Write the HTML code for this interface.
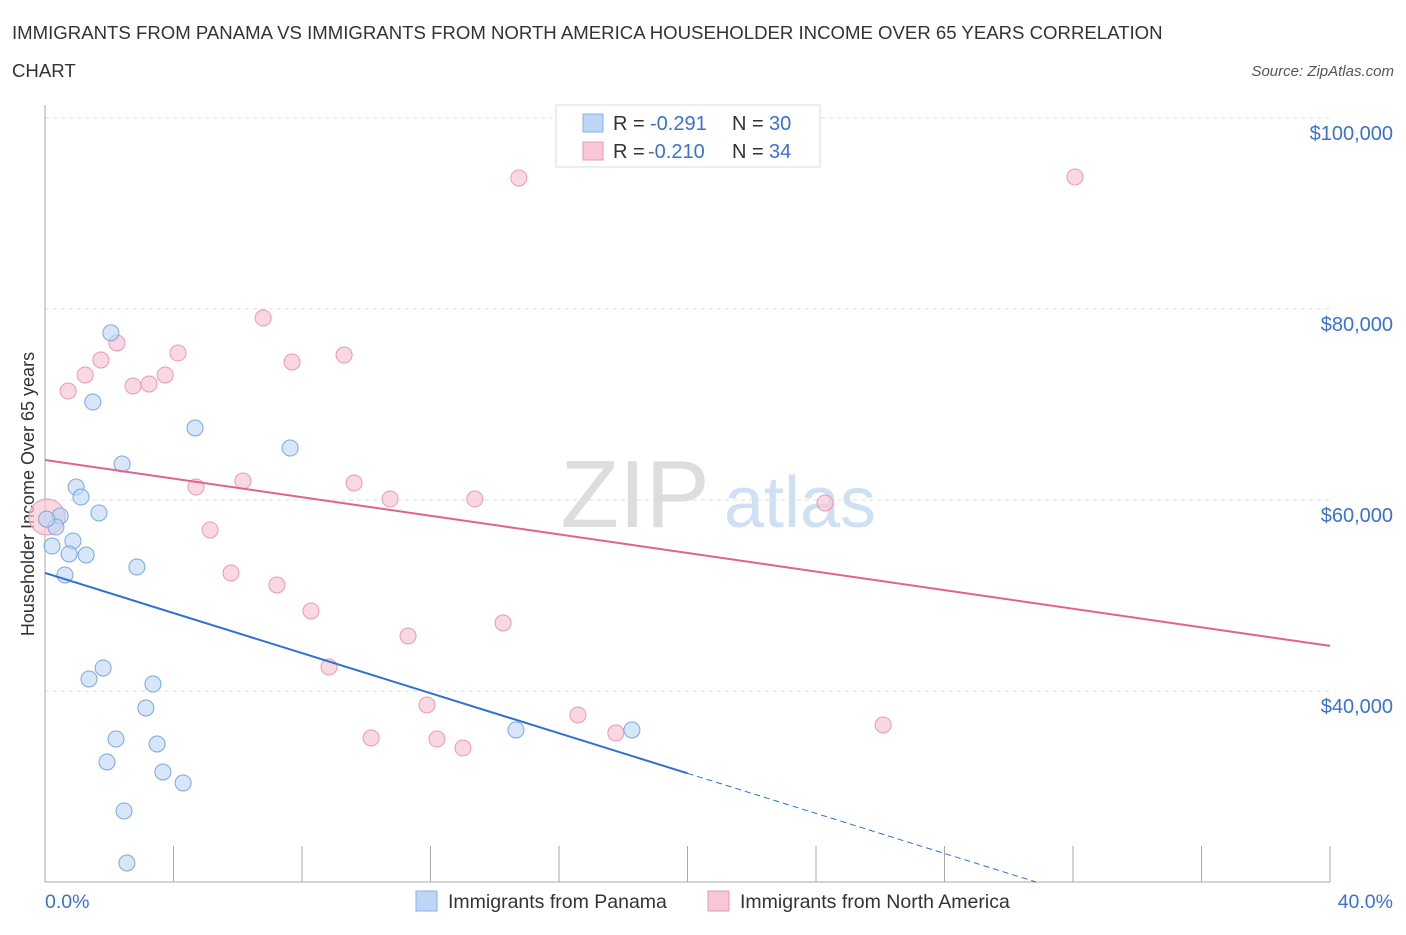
<!DOCTYPE html>
<html><head><meta charset="utf-8"><style>
body{margin:0;background:#fff;font-family:"Liberation Sans",sans-serif;}
svg text{font-family:"Liberation Sans",sans-serif;}
</style></head><body>
<svg id="c" width="1406" height="930" xmlns="http://www.w3.org/2000/svg">
<text x="12" y="39" font-size="18.6" fill="#333">IMMIGRANTS FROM PANAMA VS IMMIGRANTS FROM NORTH AMERICA HOUSEHOLDER INCOME OVER 65 YEARS CORRELATION</text>
<text x="12" y="77" font-size="18.6" fill="#333">CHART</text>
<text x="1394" y="76" font-size="15" fill="#555" font-style="italic" text-anchor="end">Source: ZipAtlas.com</text>
<text x="635" y="527" font-size="96" fill="#ddd" font-family="Liberation Serif" text-anchor="middle">ZIP</text>
<text x="800" y="527" font-size="72" fill="#cfe0f3" text-anchor="middle">atlas</text>
<text transform="translate(34,494) rotate(-90)" font-size="18" fill="#333" text-anchor="middle">Householder Income Over 65 years</text>
<g id="grid"></g><g id="marks"></g>
<g>
<rect x="556" y="105" width="264" height="62" fill="#fff" stroke="#ddd"/>
<rect x="583" y="114" width="20" height="18" fill="#bcd6f5" stroke="#8ab2e6"/>
<rect x="583" y="142" width="20" height="18" fill="#f8c7d6" stroke="#e99ab3"/>
<text y="130" font-size="20" fill="#333"><tspan x="613">R =</tspan><tspan x="650" fill="#3b71d0">-0.291</tspan><tspan x="732">N =</tspan><tspan x="769" fill="#3b71d0">30</tspan></text>
<text y="158" font-size="20" fill="#333"><tspan x="613">R =</tspan><tspan x="648" fill="#3b71d0">-0.210</tspan><tspan x="732">N =</tspan><tspan x="769" fill="#3b71d0">34</tspan></text>
</g>
<g>
<rect x="416" y="891" width="21" height="20" fill="#bcd6f5" stroke="#8ab2e6"/>
<text x="448" y="908" font-size="19.5" fill="#333">Immigrants from Panama</text>
<rect x="708" y="891" width="21" height="20" fill="#f8c7d6" stroke="#e99ab3"/>
<text x="740" y="908" font-size="19.5" fill="#333">Immigrants from North America</text>
</g>
</svg>
<script>
const yTicks=[40000,60000,80000,100000];
const yTickLabels=["$40,000","$60,000","$80,000","$100,000"];
const xTicks=[0,4,8,12,16,20,24,28,32,36,40];
const blueX=[2.05,1.49,4.67,7.63,2.40,0.97,1.12,1.68,0.47,0.34,0.87,0.22,0.75,1.28,0.62,2.86,1.81,1.37,3.36,3.14,2.21,3.49,1.93,3.67,4.30,2.46,2.55,14.66,18.27,0.05];
const blueY=[77500,70260,67540,65440,63770,61360,60310,58640,58320,57170,55710,55180,54350,54240,52150,52980,42410,41260,40730,38220,34970,34450,32570,31520,30370,27440,21990,35920,35920,58000];
const pinkX=[14.75,32.06,6.79,2.24,4.14,9.31,1.74,7.69,1.25,3.74,3.24,2.74,0.72,4.70,6.16,9.62,10.74,13.38,24.28,5.14,5.79,7.22,8.28,11.30,14.26,8.84,11.89,16.59,10.15,12.20,13.01,17.77,26.09,0.06];
const pinkY=[93720,93820,79060,76440,75390,75180,74660,74450,73090,73090,72150,71940,71410,61360,61990,61780,60100,60100,59690,56860,52360,51100,48380,45760,47120,42510,38530,37490,35080,34970,34030,35600,36440,58220];
const blueTrend=[52360,31380];
const pinkTrend=[64190,44720];
const ns="http://www.w3.org/2000/svg";
const X=v=>45+v/40*1285, Y=v=>500-(v-60000)*191/20000;
function mk(t,a,p){const e=document.createElementNS(ns,t);for(const k in a)e.setAttribute(k,a[k]);p.appendChild(e);return e;}
const g=document.getElementById('grid'),m=document.getElementById('marks');
yTicks.forEach((v,i)=>{
 const l=mk('line',{x1:45,x2:1330,y1:Y(v),y2:Y(v),stroke:'#ddd','stroke-dasharray':'4,4'},g);
 
 
 const t=mk('text',{x:1393,y:Y(v)+22,'font-size':20,fill:'#3b71d0','text-anchor':'end'},g);t.textContent=yTickLabels[i];
 
 
});
mk('line',{x1:45,x2:45,y1:105,y2:882,stroke:'#aaa'},g);
mk('line',{x1:45,x2:1330,y1:882,y2:882,stroke:'#aaa'},g);
xTicks.forEach(v=>{const l=mk('line',{x1:X(v),x2:X(v),y1:846,y2:882,stroke:'#aaa'},g);
 
 });
let t=mk('text',{x:45,y:908,'font-size':19.5,fill:'#3b71d0'},g);t.textContent='0.0%';


t=mk('text',{x:1393,y:908,'font-size':19.5,fill:'#3b71d0','text-anchor':'end'},g);t.textContent='40.0%';


pinkX.forEach((x,i)=>{const big=i===pinkX.length-1;const c=mk('circle',{cx:X(x),cy:Y(pinkY[i]),r:big?18:8,fill:'#f8c7d6','fill-opacity':0.7,stroke:'#e99ab3'},m);
 
 });
blueX.forEach((x,i)=>{const c=mk('circle',{cx:X(x),cy:Y(blueY[i]),r:8,fill:'#bcd6f5','fill-opacity':0.6,stroke:'#7aa7e0'},m);
 
 });
const bs=(blueTrend[1]-blueTrend[0])/20, xEnd=(20000-blueTrend[0])/bs;
let l=mk('line',{x1:X(0),y1:Y(blueTrend[0]),x2:X(20),y2:Y(blueTrend[1]),stroke:'#2f6fd6','stroke-width':2},m);


l=mk('line',{x1:X(20),y1:Y(blueTrend[1]),x2:X(xEnd),y2:Y(20000),stroke:'#2f6fd6','stroke-width':1,'stroke-dasharray':'6,4'},m);


l=mk('line',{x1:X(0),y1:Y(pinkTrend[0]),x2:X(40),y2:Y(pinkTrend[1]),stroke:'#e0628f','stroke-width':2},m);


</script>
</body></html>
